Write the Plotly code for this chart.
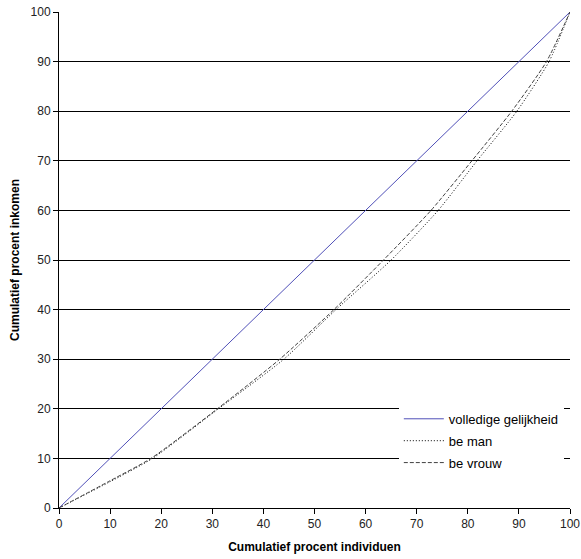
import plotly.graph_objects as go

# Cumulative percent of individuals (x) and income (y)
equal_x = [0, 100]
equal_y = [0, 100]

man_x = [0, 10, 18.3, 31.2, 44.0, 54.2, 65.0, 74.2, 81.8, 89.6, 95.9, 100]
man_y = [0, 5.3, 10, 20, 30, 40, 50, 60, 70, 80, 90, 100]

vrouw_x = [0, 10, 18.0, 31.0, 43.2, 53.8, 63.5, 72.8, 80.8, 88.6, 95.4, 100]
vrouw_y = [0, 5.5, 10, 20, 30, 40, 50, 60, 70, 80, 90, 100]

tick_vals = list(range(0, 101, 10))

fig = go.Figure()
fig.add_trace(go.Scatter(x=equal_x, y=equal_y, mode="lines", name="volledige gelijkheid",
                         line=dict(color="#5050b8", width=1), legendgroup="a"))
fig.add_trace(go.Scatter(x=man_x, y=man_y, mode="lines", name="be man",
                         line=dict(color="#000000", width=1, dash="1px,2px", shape="spline", smoothing=0.6),
                         legendgroup="b"))
fig.add_trace(go.Scatter(x=vrouw_x, y=vrouw_y, mode="lines", name="be vrouw",
                         line=dict(color="#404040", width=1, dash="4px,2px", shape="spline", smoothing=0.6),
                         legendgroup="c"))

fig.update_layout(
    width=581, height=559,
    margin=dict(l=59, r=11, t=12, b=51),
    plot_bgcolor="white", paper_bgcolor="white",
    font=dict(family="Liberation Sans, Arial, sans-serif", size=12, color="#000"),
    showlegend=True,
    legend=dict(x=0.665, y=0.21, xanchor="left", yanchor="top",
                bgcolor="white", borderwidth=0, tracegroupgap=2,
                font=dict(size=13, color="#000"), itemwidth=40),
    xaxis=dict(range=[0, 100], tickvals=tick_vals, showgrid=False, zeroline=False,
               showline=True, linecolor="black", linewidth=1, automargin=False,
               ticks="outside", ticklen=5, tickcolor="black",
               tickfont=dict(size=12, color="#222"),
               title=dict(text="<b>Cumulatief procent individuen</b>", font=dict(size=12), standoff=12)),
    yaxis=dict(range=[0, 100], tickvals=tick_vals, showgrid=True, gridcolor="black", gridwidth=1,
               zeroline=False, showline=True, linecolor="black", linewidth=1, automargin=False,
               ticks="outside", ticklen=5, tickcolor="black",
               tickfont=dict(size=12, color="#222"),
               title=dict(text="<b>Cumulatief procent inkomen</b>", font=dict(size=12), standoff=8)),
)

fig.write_html("out.html", config={"displayModeBar": False},
               post_script="document.body.style.margin='0';")
